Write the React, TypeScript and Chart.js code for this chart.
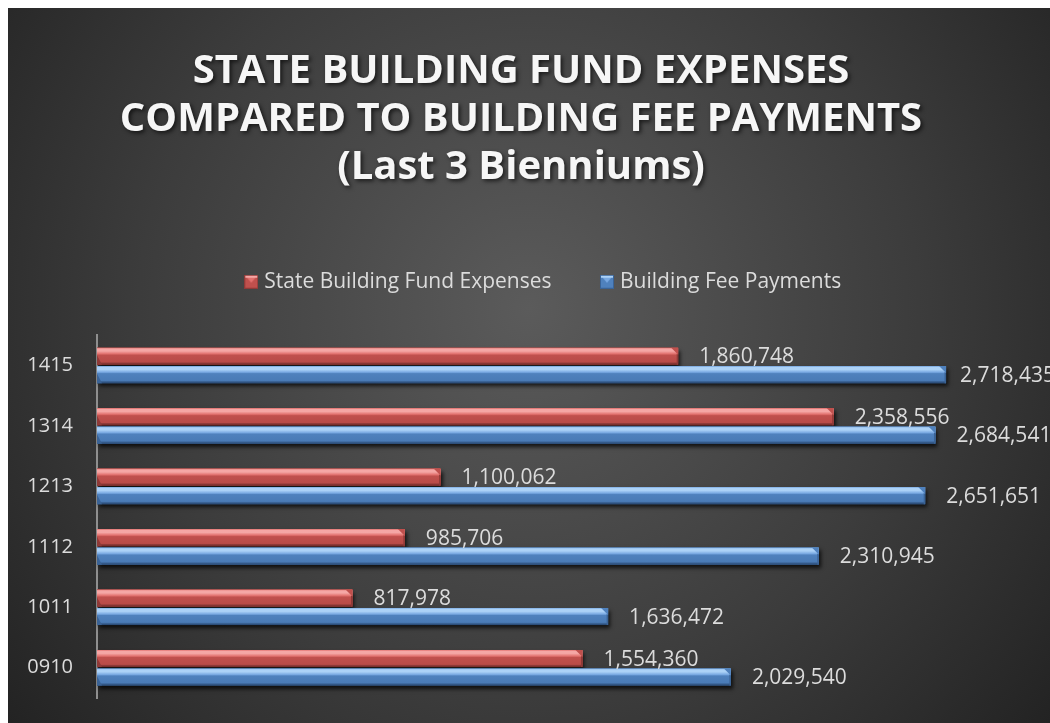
import React, { useEffect, useRef } from 'react';
import { Chart, registerables } from 'chart.js';

Chart.register(...registerables);

// ---- data ----
const categories = ['1415', '1314', '1213', '1112', '1011', '0910'];
const expenses = [1860748, 2358556, 1100062, 985706, 817978, 1554360];
const feePayments = [2718435, 2684541, 2651651, 2310945, 1636472, 2029540];
const seriesNames = ['State Building Fund Expenses', 'Building Fee Payments'];
const titleLines = [
  'STATE BUILDING FUND EXPENSES',
  'COMPARED TO BUILDING FEE PAYMENTS',
  '(Last 3 Bienniums)',
];
const axisMin = 0;
const axisMax = 3000000;

// ---- styles ----
const FONT = "'Open Sans', 'DejaVu Sans', sans-serif";
const TEXT_COLOR = '#dcdcdc';
const palettes = [
  { base: '#c0504d', light: '#f5a7a5', mid: '#e2716e', base2: '#b94b48', dark: '#6e2826', edge: '#8f3a38' },
  { base: '#4f81bd', light: '#acd2f7', mid: '#79a9e2', base2: '#4a7bb6', dark: '#25436b', edge: '#3a6396' },
];

function makeIcon(p: typeof palettes[0]) {
  const s = 14;
  const c = document.createElement('canvas');
  c.width = s;
  c.height = s;
  const g = c.getContext('2d')!;
  g.fillStyle = p.edge;
  g.fillRect(0, 0, s, s);
  g.fillStyle = p.base;
  g.fillRect(1, 1, s - 2, s - 2);
  g.fillStyle = p.mid;
  g.beginPath();
  g.moveTo(1, 1);
  g.lineTo(s - 1, 1);
  g.lineTo(s / 2, s / 2 + 1);
  g.closePath();
  g.fill();
  g.fillStyle = p.light;
  g.fillRect(1, 1, s - 2, 2);
  return c;
}

const backgroundPlugin = {
  id: 'bgGradient',
  beforeDraw(chart: any) {
    const { ctx, width, height } = chart;
    ctx.save();
    const g = ctx.createRadialGradient(width * 0.5, height * 0.42, 0, width * 0.5, height * 0.42, width * 0.68);
    g.addColorStop(0, '#5b5b5b');
    g.addColorStop(0.55, '#3c3c3c');
    g.addColorStop(1, '#1f1f1f');
    ctx.fillStyle = g;
    ctx.fillRect(0, 0, width, height);
    ctx.restore();
  },
};

// soft drop shadow under the title text
const titleShadowPlugin = {
  id: 'titleShadow',
  afterInit(chart: any) {
    const tb = chart.titleBlock;
    if (!tb || tb.__shadowed) return;
    const orig = tb.draw.bind(tb);
    tb.draw = (...args: any[]) => {
      const ctx = chart.ctx;
      ctx.save();
      ctx.shadowColor = 'rgba(0,0,0,0.65)';
      ctx.shadowBlur = 4;
      ctx.shadowOffsetX = 2;
      ctx.shadowOffsetY = 2;
      orig(...args);
      ctx.restore();
    };
    tb.__shadowed = true;
  },
};

// shifts the legend row sideways, as in the reference
const legendOffsetPlugin = {
  id: 'legendOffset',
  afterLayout(chart: any) {
    const l = chart.legend;
    if (l) {
      l.left += 24;
      l.right += 24;
    }
  },
};

const bevelBarsPlugin = {
  id: 'bevelBars',
  beforeDatasetsDraw(chart: any) {
    const ctx = chart.ctx;
    ctx.save();
    chart.data.datasets.forEach((_: any, di: number) => {
      const meta = chart.getDatasetMeta(di);
      meta.data.forEach((el: any) => {
        const { x, y, base, height } = el.getProps(['x', 'y', 'base', 'height'], true);
        ctx.shadowColor = 'rgba(0,0,0,0.75)';
        ctx.shadowBlur = 4;
        ctx.shadowOffsetX = 2;
        ctx.shadowOffsetY = 3;
        ctx.fillStyle = '#111';
        ctx.fillRect(base, y - height / 2, x - base, height);
      });
    });
    ctx.restore();
  },
  afterDatasetsDraw(chart: any) {
    const ctx = chart.ctx;
    ctx.save();
    chart.data.datasets.forEach((_: any, di: number) => {
      const p = palettes[di];
      const meta = chart.getDatasetMeta(di);
      meta.data.forEach((el: any) => {
        const { x, y, base, height } = el.getProps(['x', 'y', 'base', 'height'], true);
        const top = y - height / 2;
        const w = x - base;
        const g = ctx.createLinearGradient(0, top, 0, top + height);
        g.addColorStop(0, p.mid);
        g.addColorStop(0.08, p.light);
        g.addColorStop(0.2, p.light);
        g.addColorStop(0.36, p.mid);
        g.addColorStop(0.44, p.base);
        g.addColorStop(0.84, p.base2);
        g.addColorStop(0.9, p.edge);
        g.addColorStop(1, p.dark);
        ctx.fillStyle = g;
        ctx.fillRect(base, top, w, height);
        // right end bevel
        const b = Math.min(7, w / 2);
        ctx.fillStyle = p.base;
        ctx.beginPath();
        ctx.moveTo(x - b, top);
        ctx.lineTo(x, top);
        ctx.lineTo(x, top + b);
        ctx.closePath();
        ctx.fill();
        ctx.fillStyle = p.edge;
        ctx.beginPath();
        ctx.moveTo(x - 1.5, top + b - 1);
        ctx.lineTo(x, top + b);
        ctx.lineTo(x, top + height);
        ctx.lineTo(x - 1.5, top + height);
        ctx.closePath();
        ctx.fill();
        // left end bevel
        ctx.fillStyle = p.edge;
        ctx.beginPath();
        ctx.moveTo(base, top + height * 0.45);
        ctx.lineTo(base + 5, top + height);
        ctx.lineTo(base, top + height);
        ctx.closePath();
        ctx.fill();
      });
    });
    ctx.restore();
  },
};

const valueLabelsPlugin = {
  id: 'valueLabels',
  afterDatasetsDraw(chart: any) {
    const ctx = chart.ctx;
    ctx.save();
    ctx.font = `21px ${FONT}`;
    ctx.fillStyle = TEXT_COLOR;
    ctx.textAlign = 'left';
    ctx.textBaseline = 'middle';
    chart.data.datasets.forEach((ds: any, di: number) => {
      const meta = chart.getDatasetMeta(di);
      meta.data.forEach((el: any, i: number) => {
        const { x, y } = el.getProps(['x', 'y'], true);
        const txt = Number(ds.data[i]).toLocaleString('en-US');
        const tw = ctx.measureText(txt).width;
        // like the original, a label that would run far past the edge is pulled back
        const tx = Math.min(x + 21, chart.width - tw + 5);
        ctx.fillText(txt, tx, y + 1);
      });
    });
    ctx.restore();
  },
};

export default function App() {
  const ref = useRef<HTMLCanvasElement | null>(null);

  useEffect(() => {
    if (!ref.current) return;
    const icons = palettes.map(makeIcon);
    const chart = new Chart(ref.current, {
      type: 'bar',
      data: {
        labels: categories,
        datasets: [
          {
            label: seriesNames[0],
            data: expenses,
            backgroundColor: palettes[0].base,
            borderWidth: 0,
            categoryPercentage: 0.61,
            barPercentage: 0.93,
          },
          {
            label: seriesNames[1],
            data: feePayments,
            backgroundColor: palettes[1].base,
            borderWidth: 0,
            categoryPercentage: 0.61,
            barPercentage: 0.93,
          },
        ],
      },
      options: {
        indexAxis: 'y',
        animation: false,
        responsive: true,
        maintainAspectRatio: false,
        layout: { padding: { left: 0, right: 16, top: 0, bottom: 25 } },
        scales: {
          x: {
            position: 'top',
            min: axisMin,
            max: axisMax,
            grid: { display: false },
            border: { display: false },
            ticks: { display: false },
            afterFit(s: any) {
              s.height = 33;
            },
          },
          y: {
            grid: { display: false, drawTicks: false },
            border: { display: true, color: '#8f8f8f', width: 2 },
            ticks: {
              color: TEXT_COLOR,
              font: { family: FONT, size: 20 },
              padding: 24,
            },
            afterFit(s: any) {
              s.width = 89;
              s.paddingTop = 0;
              s.paddingBottom = 0;
            },
          },
        },
        plugins: {
          title: {
            display: true,
            text: titleLines,
            color: '#f6f6f6',
            font: { family: FONT, size: 40, weight: 'bold', lineHeight: 1.21 },
            padding: { top: 39, bottom: 26 },
          },
          legend: {
            display: true,
            position: 'top',
            labels: {
              color: TEXT_COLOR,
              font: { family: FONT, size: 21 },
              usePointStyle: true,
              pointStyleWidth: 5,
              padding: 53,
              generateLabels(c: any) {
                const items = (Chart.defaults.plugins.legend.labels as any).generateLabels(c);
                return items.map((it: any, i: number) => ({ ...it, pointStyle: icons[i], fontColor: TEXT_COLOR }));
              },
            },
          },
          tooltip: { enabled: false },
        },
      },
      plugins: [backgroundPlugin, titleShadowPlugin, legendOffsetPlugin, bevelBarsPlugin, valueLabelsPlugin],
    } as any);
    return () => chart.destroy();
  }, []);

  return (
    <div style={{ position: 'fixed', left: 8, top: 8, width: 1042, height: 715 }}>
      <canvas ref={ref} />
    </div>
  );
}
